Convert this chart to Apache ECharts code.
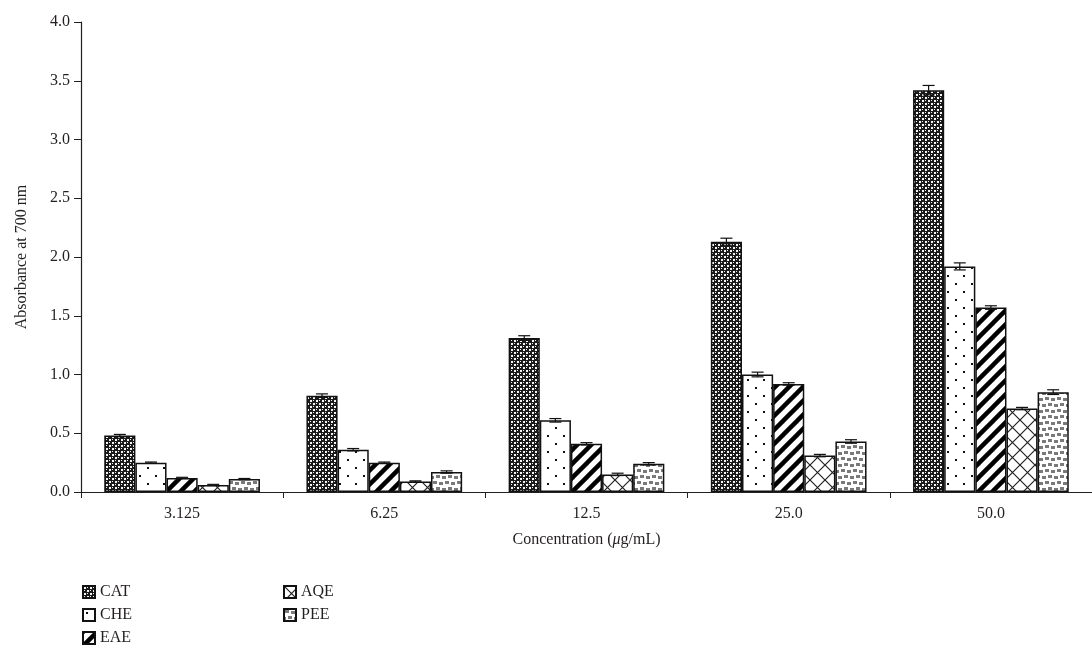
<!DOCTYPE html>
<html>
<head>
<meta charset="utf-8">
<script src="https://cdn.jsdelivr.net/npm/echarts@6/dist/echarts.min.js"></script>
<style>
  html, body { margin: 0; padding: 0; background: #fff; }
  #chart { width: 1092px; height: 648px; }
</style>
</head>
<body>
<div id="chart"></div>
<script>
// data
var concentrations = ['3.125', '6.25', '12.5', '25.0', '50.0'];
var yTicks = [0, 0.5, 1.0, 1.5, 2.0, 2.5, 3.0, 3.5, 4.0];

var catValues = [0.48, 0.82, 1.31, 2.13, 3.42];
var cheValues = [0.25, 0.36, 0.61, 1.00, 1.92];
var eaeValues = [0.12, 0.25, 0.41, 0.92, 1.57];
var aqeValues = [0.06, 0.09, 0.15, 0.31, 0.71];
var peeValues = [0.11, 0.17, 0.24, 0.43, 0.85];

var catErr = [0.01, 0.015, 0.02, 0.03, 0.04];
var cheErr = [0.005, 0.01, 0.015, 0.02, 0.03];
var eaeErr = [0.005, 0.005, 0.01, 0.01, 0.015];
var aqeErr = [0.005, 0.005, 0.01, 0.01, 0.01];
var peeErr = [0.005, 0.01, 0.01, 0.015, 0.02];

var seriesNames = ['CAT', 'CHE', 'EAE', 'AQE', 'PEE'];
var allValues = [catValues, cheValues, eaeValues, aqeValues, peeValues];
var allErr = [catErr, cheErr, eaeErr, aqeErr, peeErr];

var FONT = '"Liberation Serif", "DejaVu Serif", serif';
var TEXT = '#231f20';
var CAT_GAP = 0.23;

// hatch patterns drawn on small canvases
function tile(w, h, draw) {
    var c = document.createElement('canvas');
    c.width = w; c.height = h;
    draw(c.getContext('2d'), w, h);
    return { image: c, repeat: 'repeat' };
}

var patterns = [
    // CAT: dark with small white dots
    tile(6, 6, function (g, w, h) {
        g.fillStyle = '#1a1a1a'; g.fillRect(0, 0, w, h);
        g.fillStyle = '#f4f4f4';
        g.fillRect(1, 1, 2, 2); g.fillRect(4, 4, 2, 2);
        g.fillRect(4, 1, 1, 1); g.fillRect(1, 4, 1, 1);
    }),
    // CHE: sparse dots
    tile(16, 16, function (g, w, h) {
        g.fillStyle = '#fff'; g.fillRect(0, 0, w, h);
        g.fillStyle = '#111';
        g.fillRect(3, 3, 2, 2); g.fillRect(11, 11, 2, 2);
    }),
    // EAE: thick diagonal stripes
    tile(14, 14, function (g, w, h) {
        g.fillStyle = '#fff'; g.fillRect(0, 0, w, h);
        g.strokeStyle = '#000'; g.lineWidth = 4.5;
        for (var k = -1; k <= 1; k++) {
            g.beginPath();
            g.moveTo(k * w - 2, h + 2); g.lineTo(k * w + w + 2, -2);
            g.stroke();
        }
    }),
    // AQE: diagonal crosshatch
    tile(15, 15, function (g, w, h) {
        g.fillStyle = '#fff'; g.fillRect(0, 0, w, h);
        g.strokeStyle = '#222'; g.lineWidth = 1.2;
        g.beginPath();
        g.moveTo(0, 0); g.lineTo(w, h);
        g.moveTo(0, h); g.lineTo(w, 0);
        g.stroke();
    }),
    // PEE: staggered grey squares
    tile(12, 12, function (g, w, h) {
        g.fillStyle = '#fff'; g.fillRect(0, 0, w, h);
        g.fillStyle = '#7a7a7a';
        g.fillRect(1, 1, 4, 3); g.fillRect(7, 2, 4, 3);
        g.fillRect(4, 7, 4, 3); g.fillRect(10, 8, 2, 3); g.fillRect(0, 8, 2, 3);
    })
];

var barSeries = seriesNames.map(function (name, i) {
    return {
        name: name,
        type: 'bar',
        barGap: 0,
        barCategoryGap: (CAT_GAP * 100) + '%',
        data: allValues[i],
        itemStyle: {
            color: patterns[i],
            borderColor: '#111',
            borderWidth: 1.5
        },
        emphasis: { disabled: true }
    };
});

// error bars: [category, series index, value, error]
var errData = [];
allValues.forEach(function (vals, s) {
    vals.forEach(function (v, c) {
        errData.push([c, s, v, allErr[s][c]]);
    });
});

var errorSeries = {
    type: 'custom',
    name: 'err',
    z: 10,
    data: errData,
    encode: { x: 0, y: 2 },
    renderItem: function (params, api) {
        var c = api.value(0), s = api.value(1), v = api.value(2), e = api.value(3);
        var band = api.size([1, 0])[0];
        var inner = band * (1 - CAT_GAP);
        var bw = inner / seriesNames.length;
        var center = api.coord([c, 0])[0];
        var x = center - inner / 2 + bw * (s + 0.5);
        var yHi = api.coord([c, v + e])[1];
        var yLo = api.coord([c, v - e])[1];
        var hw = 6;
        var style = { stroke: '#111', lineWidth: 1.2 };
        return {
            type: 'group',
            children: [
                { type: 'line', shape: { x1: x, y1: yHi, x2: x, y2: yLo }, style: style },
                { type: 'line', shape: { x1: x - hw, y1: yHi, x2: x + hw, y2: yHi }, style: style },
                { type: 'line', shape: { x1: x - hw, y1: yLo, x2: x + hw, y2: yLo }, style: style }
            ]
        };
    }
};

function legendBlock(names, left) {
    return {
        data: names,
        orient: 'vertical',
        left: left,
        top: 583,
        height: 80,
        padding: 0,
        icon: 'rect',
        itemWidth: 12,
        itemHeight: 12,
        itemGap: 5,
        selectedMode: false,
        textStyle: { fontFamily: FONT, fontSize: 16, lineHeight: 18, color: TEXT }
    };
}

var myChart = echarts.init(document.getElementById('chart'));

var option = {
    animation: false,
    textStyle: { fontFamily: FONT, color: TEXT },
    grid: {
        left: 81,
        top: 22,
        width: 1020,
        height: 470
    },
    legend: [legendBlock(['CAT', 'CHE', 'EAE'], 82), legendBlock(['AQE', 'PEE'], 283)],
    xAxis: {
        type: 'category',
        data: concentrations,
        name: 'Concentration ({i|\u03bc}g/mL)',
        nameLocation: 'middle',
        nameGap: 40,
        nameTextStyle: {
            fontFamily: FONT,
            fontSize: 16,
            color: TEXT,
            rich: { i: { fontFamily: FONT, fontStyle: 'italic', fontSize: 16, color: TEXT } }
        },
        axisLine: { lineStyle: { color: '#231f20', width: 1.2 } },
        axisTick: { show: true, inside: false, length: 6, lineStyle: { color: '#231f20' } },
        axisLabel: { fontFamily: FONT, fontSize: 16, color: TEXT, margin: 14 },
        splitLine: { show: false }
    },
    yAxis: {
        type: 'value',
        min: yTicks[0],
        max: yTicks[yTicks.length - 1],
        interval: 0.5,
        name: 'Absorbance at 700 nm',
        nameLocation: 'middle',
        nameGap: 51,
        nameRotate: 90,
        nameTextStyle: { fontFamily: FONT, fontSize: 16, color: TEXT },
        axisLine: { show: true, lineStyle: { color: '#231f20', width: 1.2 } },
        axisTick: { show: true, inside: false, length: 7, lineStyle: { color: '#231f20' } },
        axisLabel: {
            fontFamily: FONT, fontSize: 16, color: TEXT, margin: 11,
            formatter: function (v) { return v.toFixed(1); }
        },
        splitLine: { show: false }
    },
    series: barSeries.concat([errorSeries])
};

myChart.setOption(option);
</script>
</body>
</html>
